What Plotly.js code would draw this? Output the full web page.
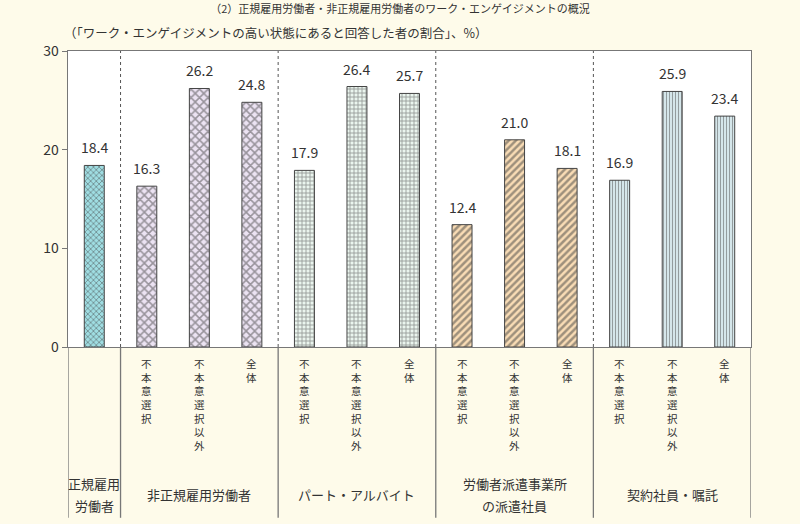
<!DOCTYPE html>
<html>
<head>
<meta charset="utf-8">
<script src="https://cdn.plot.ly/plotly-3.0.1.min.js"></script>
<style>
html,body{margin:0;padding:0;background:#fefbea;}
#chart{width:800px;height:524px;}
</style>
</head>
<body>
<div id="chart"></div>
<script>
// ---- data ----
const categories = ["正規雇用労働者","不本意選択","不本意選択以外","全体","不本意選択","不本意選択以外","全体","不本意選択","不本意選択以外","全体","不本意選択","不本意選択以外","全体"];
const tickLabels = ["","不本意選択","不本意選択以外","全体","不本意選択","不本意選択以外","全体","不本意選択","不本意選択以外","全体","不本意選択","不本意選択以外","全体"];
const values = [18.4,16.3,26.2,24.8,17.9,26.4,25.7,12.4,21.0,18.1,16.9,25.9,23.4];
const groupOf = [0,1,1,1,2,2,2,3,3,3,4,4,4];
const groupNames = [["正規雇用","労働者"],["非正規雇用労働者"],["パート・アルバイト"],["労働者派遣事業所","の派遣社員"],["契約社員・嘱託"]];
const titleText = "（2）正規雇用労働者・非正規雇用労働者のワーク・エンゲイジメントの概況";
const subtitleText = "（「ワーク・エンゲイジメントの高い状態にあると回答した者の割合」、%）";

// ---- styles ----
const groupStyle = [
  {shape:"x", fg:"#2f9fab", bg:"#9fdde2", size:4, sol:0.4},
  {shape:"x", fg:"#9b7bbd", bg:"#ece3f3", size:6, sol:0.45},
  {shape:"+", fg:"#86c29f", bg:"#eaf5ee", size:4, sol:0.4},
  {shape:"/", fg:"#d68e42", bg:"#f9dcb5", size:5, sol:0.5},
  {shape:"|", fg:"#62bfd0", bg:"#e2f5f9", size:3, sol:0.45}
];
const FONT = "'Noto Sans CJK JP', 'Noto Sans', sans-serif";
const TXT = "#333333";
const LINE = "#777777";

const xs = values.map((v,i)=>i);
const trace = {
  type:"bar", x: xs, y: values, width: 0.38,
  hoverinfo:"skip",
  marker:{
    color: groupOf.map(g=>groupStyle[g].bg),
    line:{color:"#444444", width:1},
    pattern:{
      shape: groupOf.map(g=>groupStyle[g].shape),
      fgcolor: groupOf.map(g=>groupStyle[g].fg),
      bgcolor: groupOf.map(g=>groupStyle[g].bg),
      size: groupOf.map(g=>groupStyle[g].size),
      solidity: groupOf.map(g=>groupStyle[g].sol),
      fillmode:"overlay"
    }
  }
};

const annotations = [];
// value labels
values.forEach((v,i)=>{
  annotations.push({x:i, y:v, xref:"x", yref:"y", text:v.toFixed(1), showarrow:false,
    yanchor:"bottom", yshift:6, font:{family:FONT, size:14, color:TXT}});
});
// vertical category labels (one character per line)
tickLabels.forEach((lab,i)=>{
  if (!lab) return;
  annotations.push({x:i, y:0, xref:"x", yref:"paper", text:[...lab].join("<br>"), showarrow:false,
    yanchor:"top", yshift:-7, font:{family:FONT, size:10.5, color:TXT}});
});
// group labels
const groupCenters = groupNames.map((_,g)=>{
  const idx = xs.filter(i=>groupOf[i]===g);
  return (idx[0]+idx[idx.length-1])/2;
});
groupNames.forEach((lines,g)=>{
  lines.forEach((ln,k)=>{
    const off = lines.length===1 ? -147 : (-136 - 22*k);
    annotations.push({x:groupCenters[g], y:0, xref:"x", yref:"paper", text:ln, showarrow:false,
      yanchor:"middle", yshift:off, font:{family:FONT, size:13, color:TXT}});
  });
});
// subtitle
annotations.push({x:0, y:1, xref:"paper", yref:"paper", xanchor:"left", yanchor:"middle",
  xshift:-6, yshift:19, text:subtitleText, showarrow:false, font:{family:FONT, size:12.5, color:TXT}});

// separators
const shapes = [];
const seps = [];
for (let i=1;i<groupOf.length;i++) if (groupOf[i]!==groupOf[i-1]) seps.push(i-0.5);
seps.forEach(s=>{
  shapes.push({type:"line", xref:"x", yref:"paper", x0:s, x1:s, y0:0, y1:1,
    line:{color:"#555555", width:1, dash:"dot"}});
});
[-0.5, ...seps, values.length-0.5].forEach(s=>{
  shapes.push({type:"line", xref:"x", yref:"paper", x0:s, x1:s, y0:0, y1:-0.577,
    line:{color:LINE, width:1.3}});
});

const layout = {
  width:800, height:524,
  paper_bgcolor:"#fefbea", plot_bgcolor:"#ffffff",
  margin:{l:68, r:49, t:51, b:177},
  showlegend:false,
  title:{text:titleText, x:0.5, xref:"container", xanchor:"center", y:0.983, yref:"container", yanchor:"middle",
    font:{family:FONT, size:11, color:TXT}},
  xaxis:{range:[-0.5, values.length-0.5], showticklabels:false, ticks:"", showgrid:false, zeroline:false,
    showline:true, mirror:true, linecolor:LINE, linewidth:1.3, fixedrange:true},
  yaxis:{range:[0,30], dtick:10, tick0:0, ticks:"outside", ticklen:5, tickcolor:LINE, showgrid:false, zeroline:false,
    showline:true, mirror:true, linecolor:LINE, linewidth:1.3, tickfont:{family:FONT, size:14, color:TXT}, fixedrange:true},
  annotations: annotations,
  shapes: shapes
};

Plotly.newPlot("chart", [trace], layout, {displayModeBar:false, staticPlot:true});
</script>
</body>
</html>
